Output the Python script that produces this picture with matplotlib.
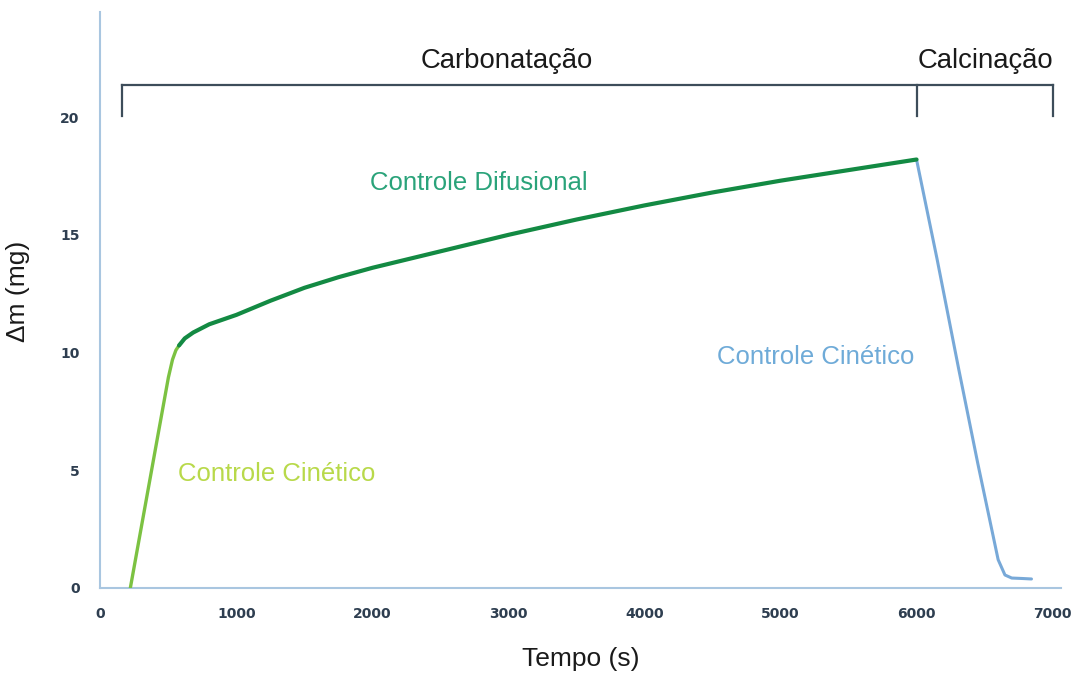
import matplotlib
matplotlib.use("Agg")
import matplotlib.pyplot as plt

# fase cinetica (carbonatacao)
t_cin = [220, 320, 420, 500, 530, 555, 578]
m_cin = [0.0, 3.2, 6.4, 8.95, 9.7, 10.1, 10.3]
# fase difusional
t_dif = [578, 620, 682, 800, 1000, 1250, 1500, 1750, 2000, 2500, 3000, 3500, 4000, 4500, 5000, 5500, 6000]
m_dif = [10.3, 10.6, 10.85, 11.2, 11.6, 12.2, 12.75, 13.2, 13.6, 14.3, 15.0, 15.65, 16.25, 16.8, 17.3, 17.75, 18.2]
# calcinacao
t_calc = [6000, 6150, 6310, 6450, 6600, 6650, 6700, 6780, 6845]
m_calc = [18.2, 14.0, 9.3, 5.3, 1.2, 0.55, 0.42, 0.4, 0.38]

x_ticks = [0, 1000, 2000, 3000, 4000, 5000, 6000, 7000]
y_ticks = [0, 5, 10, 15, 20]

# limites das fases para as chaves
ini_carb, fim_carb, fim_calc = 160, 6000, 7000

fig = plt.figure(figsize=(10.74, 6.75), dpi=100)
ax = fig.add_axes([0.0935, 0.129, 0.894, 0.853])

ax.plot(t_cin, m_cin, color='#7cc242', lw=2.4, solid_capstyle='round', zorder=3)
ax.plot(t_dif, m_dif, color='#138a43', lw=3.0, solid_capstyle='round', zorder=4)
ax.plot(t_calc, m_calc, color='#78a9d8', lw=2.2, solid_capstyle='round', zorder=3)

ax.set_xlim(0, 7059)
ax.set_ylim(0, 24.46)
ax.set_xticks(x_ticks)
ax.set_yticks(y_ticks)
ax.tick_params(length=0, labelsize=10, labelcolor='#2e3e50')
for lab in ax.get_xticklabels() + ax.get_yticklabels():
    lab.set_fontweight('bold')
ax.tick_params(axis='x', pad=14)
ax.tick_params(axis='y', pad=15)

for s in ['top', 'right']:
    ax.spines[s].set_visible(False)
for s in ['left', 'bottom']:
    ax.spines[s].set_color('#a9c6e0')
    ax.spines[s].set_linewidth(1.5)

fam = ['Liberation Sans', 'DejaVu Sans']
ax.set_xlabel('Tempo (s)', fontsize=19, color='#1a1a1a', family=fam)
ax.xaxis.set_label_coords(0.5, -0.103)
ax.set_ylabel('Δm (mg)', fontsize=19, color='#1a1a1a', family=fam)
ax.yaxis.set_label_coords(-0.073, 0.515)

# chaves das fases
br_y, br_bot = 21.36, 20.05
kw = dict(color='#3d4d5a', lw=1.6, clip_on=False)
ax.plot([ini_carb, fim_calc], [br_y, br_y], **kw)
for xb in [ini_carb, fim_carb, fim_calc]:
    ax.plot([xb, xb], [br_y, br_bot], **kw)
ax.text((ini_carb + fim_carb) / 2 - 90, 22.4, 'Carbonatação', fontsize=19.8, ha='center', va='center',
        color='#1a1a1a', family=fam)
ax.text((fim_carb + fim_calc) / 2 + 10, 22.4, 'Calcinação', fontsize=19.8, ha='center', va='center',
        color='#1a1a1a', family=fam)

ax.text(2780, 17.2, 'Controle Difusional', fontsize=18.5, ha='center', va='center', color='#2aa37a', family=fam)
ax.text(570, 4.85, 'Controle Cinético', fontsize=18.5, ha='left', va='center', color='#b8d94a', family=fam)
ax.text(4535, 9.8, 'Controle Cinético', fontsize=18.5, ha='left', va='center', color='#6fabd8', family=fam)

fig.savefig('out.png', dpi=100)
